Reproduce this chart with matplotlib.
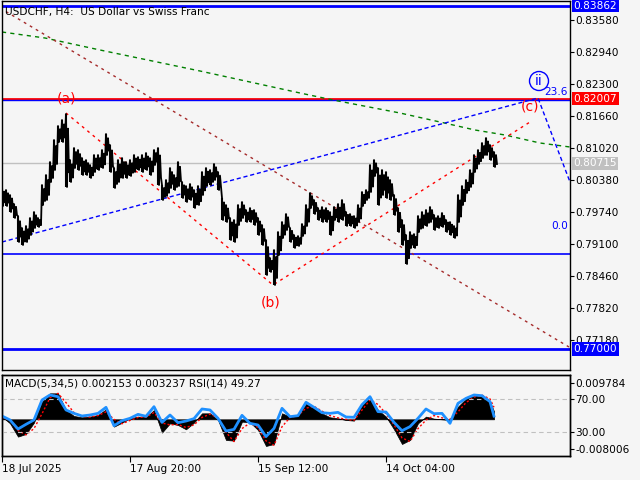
import matplotlib.pyplot as plt
from matplotlib import transforms

plt.rcParams['font.family'] = 'DejaVu Sans'

# price samples (one every 4 H4 bars), high / low
highs = [0.8022, 0.8018, 0.8008, 0.7990, 0.7966, 0.7942, 0.7946, 0.7962, 0.7974, 0.7962,
         0.8028, 0.8048, 0.8074, 0.8118, 0.8146, 0.8158, 0.8170, 0.8078, 0.8102, 0.8098,
         0.8082, 0.8078, 0.8068, 0.8088, 0.8088, 0.8098, 0.8130, 0.8108, 0.8062, 0.8078,
         0.8082, 0.8074, 0.8078, 0.8088, 0.8084, 0.8088, 0.8092, 0.8082, 0.8098, 0.8102,
         0.8028, 0.8038, 0.8062, 0.8048, 0.8074, 0.8034, 0.8026, 0.8030, 0.8018, 0.8026,
         0.8054, 0.8062, 0.8058, 0.8070, 0.8054, 0.8002, 0.7988, 0.7962, 0.7958, 0.7988,
         0.7994, 0.7978, 0.7982, 0.7978, 0.7962, 0.7948, 0.7918, 0.7882, 0.7898, 0.7934,
         0.7954, 0.7970, 0.7942, 0.7928, 0.7926, 0.7950, 0.7988, 0.8012, 0.7998, 0.7982,
         0.7984, 0.7982, 0.7974, 0.7984, 0.7990, 0.7998, 0.7974, 0.7970, 0.7966, 0.7988,
         0.8014, 0.8018, 0.8068, 0.8078, 0.8062, 0.8058, 0.8054, 0.8038, 0.8008, 0.7982,
         0.7958, 0.7928, 0.7934, 0.7930, 0.7966, 0.7974, 0.7978, 0.7984, 0.7968, 0.7966,
         0.7972, 0.7958, 0.7954, 0.7946, 0.8008, 0.8026, 0.8038, 0.8058, 0.8088, 0.8098,
         0.8112, 0.8122, 0.8108, 0.8094]
lows = [0.7986, 0.7986, 0.7974, 0.7962, 0.7914, 0.7908, 0.7914, 0.7928, 0.7942, 0.7944,
        0.7988, 0.7998, 0.8034, 0.8058, 0.8114, 0.8114, 0.8024, 0.8034, 0.8062, 0.8058,
        0.8048, 0.8048, 0.8042, 0.8054, 0.8058, 0.8062, 0.8088, 0.8054, 0.8022, 0.8034,
        0.8042, 0.8042, 0.8046, 0.8054, 0.8058, 0.8054, 0.8058, 0.8048, 0.8068, 0.8028,
        0.7998, 0.8006, 0.8022, 0.8018, 0.8026, 0.8002, 0.7994, 0.7998, 0.7982, 0.7988,
        0.8008, 0.8026, 0.8028, 0.8038, 0.8018, 0.7958, 0.7954, 0.7918, 0.7914, 0.7948,
        0.7962, 0.7954, 0.7954, 0.7948, 0.7928, 0.7908, 0.7848, 0.7854, 0.7828, 0.7888,
        0.7922, 0.7938, 0.7914, 0.7902, 0.7906, 0.7926, 0.7946, 0.7982, 0.7970, 0.7958,
        0.7954, 0.7954, 0.7928, 0.7958, 0.7954, 0.7958, 0.7946, 0.7946, 0.7942, 0.7954,
        0.7986, 0.7998, 0.8014, 0.8046, 0.7988, 0.8008, 0.8002, 0.7998, 0.7968, 0.7934,
        0.7908, 0.7870, 0.7902, 0.7902, 0.7934, 0.7942, 0.7946, 0.7954, 0.7938, 0.7942,
        0.7944, 0.7934, 0.7928, 0.7922, 0.7954, 0.7988, 0.8012, 0.8024, 0.8054, 0.8070,
        0.8082, 0.8088, 0.8078, 0.8064]
bars = list(range(0, 4 * len(highs), 4))

# indicator samples (one every 8 bars)
ind_bars = list(range(0, 489, 8)) + [492]
rsi = [49.4, 44.6, 33.6, 39.3, 44.6, 68.8, 74.9, 72.8, 56.7, 52.6,
       49.4, 50.6, 52.6, 59.9, 37.6, 43.7, 46.6, 51.4, 49.0, 60.7,
       41.7, 50.6, 41.3, 43.3, 46.2, 57.9, 56.7, 46.6, 31.2, 33.2,
       50.2, 40.5, 38.5, 24.4, 34.4, 58.7, 48.6, 49.8, 66.0, 59.9,
       53.4, 52.6, 53.8, 48.2, 47.8, 63.1, 72.8, 54.7, 54.2, 41.7,
       31.6, 36.5, 46.6, 57.9, 52.2, 52.6, 40.5, 64.7, 70.8, 74.9,
       74.0, 66.8, 49.27]
macd = [0.00072, -0.00108, -0.00467, -0.00395, -0.00090, 0.00476, 0.00700, 0.00700, 0.00251, 0.00089,
        0.00054, 0.00072, 0.00116, 0.00269, -0.00198, -0.00090, 0.00027, 0.00072, 0.00054, 0.00251,
        -0.00359, -0.00108, -0.00153, -0.00270, -0.00090, 0.00161, 0.00161, -0.00018, -0.00557, -0.00575,
        -0.00063, -0.00081, -0.00288, -0.00719, -0.00665, 0.00161, 0.00072, 0.00116, 0.00413, 0.00323,
        0.00161, 0.00054, 0.00027, -0.00018, -0.00036, 0.00386, 0.00610, 0.00251, 0.00072, -0.00270,
        -0.00665, -0.00557, -0.00108, 0.00072, 0.00018, 0.00000, -0.00018, 0.00341, 0.00556, 0.00628,
        0.00646, 0.00476, 0.002153]
signal = [0.0005, -0.0003, -0.0030, -0.0042, -0.0025, 0.0015, 0.0058, 0.0070, 0.0045, 0.0018,
          0.0008, 0.0006, 0.0010, 0.0020, 0.0000, -0.0012, -0.0003, 0.0005, 0.0006, 0.0018,
          -0.0010, -0.0015, -0.0014, -0.0022, -0.0015, 0.0005, 0.0014, 0.0004, -0.0035, -0.0060,
          -0.0025, -0.0010, -0.0022, -0.0058, -0.0070, -0.0020, 0.0005, 0.0010, 0.0030, 0.0035,
          0.0022, 0.0010, 0.0004, 0.0000, -0.0003, 0.0025, 0.0052, 0.0040, 0.0015, -0.0015,
          -0.0050, -0.0060, -0.0025, -0.0002, 0.0010, 0.0004, 0.0000, 0.0020, 0.0045, 0.0060,
          0.0065, 0.0055, 0.003237]

# drawn objects
green_x = [0, 43, 98, 198, 298, 331, 398, 438, 473, 503, 538, 568]
green_y = [0.8334, 0.8322, 0.8298, 0.8256, 0.8212, 0.8198, 0.8172, 0.8154, 0.8138, 0.8128, 0.8112, 0.8104]
blue_trend_x = [0, 536, 568]
blue_trend_y = [0.7914, 0.8202, 0.8034]
wave_x = [64, 271, 528]
wave_y = [0.8172, 0.7828, 0.8154]
channel_x = [-2, 567]
channel_y = [0.8382, 0.7704]

price_ticks = [0.83580, 0.82940, 0.82300, 0.81660, 0.81020, 0.80380, 0.79740, 0.79100, 0.78460, 0.77820, 0.77180]
date_bars = [0, 128, 256, 384]
date_labels = ['18 Jul 2025', '17 Aug 20:00', '15 Sep 12:00', '14 Oct 04:00']

bg = '#f5f5f5'
fs = 7.6
fig = plt.figure(figsize=(6.4, 4.8), dpi=100, facecolor=bg)
ax = fig.add_axes([2/640, 1-370/480, 568/640, 369/480], facecolor=bg)
ax2 = fig.add_axes([2/640, 1-456/480, 568/640, 81/480], facecolor=bg)

ax.set_xlim(0, 568)
ax.set_ylim(0.7658, 0.8396)

# horizontal levels
ax.axhline(0.83862, color='#0000ff', lw=2)
ax.axhline(0.82007, color='#ff0000', lw=2)
ax.axhline(0.8198, color='#0000ff', lw=1)
ax.axhline(0.80715, color='#c0c0c0', lw=1)
ax.axhline(0.7890, color='#0000ff', lw=1.2)
ax.axhline(0.77000, color='#0000ff', lw=2)

ax.plot(green_x, green_y, color='#008000', lw=1, ls=(0, (3, 3)))
ax.plot(channel_x, channel_y, color='#a52a2a', lw=1, ls=(0, (2, 3)))
ax.plot(blue_trend_x, blue_trend_y, color='#0000ff', lw=1, ls=(0, (3, 2)))
ax.plot(wave_x, wave_y, color='#ff0000', lw=1, ls=(0, (2, 3)))

# bars: jagged high/low sweep
zx, zy = [], []
for b, h, l in zip(bars, highs, lows):
    zx += [b, b + 1, b + 2, b + 3]
    zy += [h, l, (h + l) / 2 + (h - l) * 0.3, l + (h - l) * 0.2]
ax.plot(zx, zy, color='black', lw=1.3)
ax.vlines(bars, lows, highs, color='black', lw=1.5)

ax.text(64, 0.8202, '(a)', color='#ff0000', fontsize=10, ha='center', va='center')
ax.text(269, 0.7794, '(b)', color='#ff0000', fontsize=10, ha='center', va='center')
ax.text(528, 0.8186, '(c)', color='#ff0000', fontsize=10, ha='center', va='center')
ax.text(537, 0.8236, 'ii', color='#0000ff', fontsize=10, ha='center', va='center',
        bbox=dict(boxstyle='circle,pad=0.18', fc='none', ec='#0000ff', lw=1))
ax.text(566, 0.8214, '23.6', color='#0000ff', fontsize=fs, ha='right', va='center')
ax.text(566, 0.7946, '0.0', color='#0000ff', fontsize=fs, ha='right', va='center')

ax.text(3, 0.8384, 'USDCHF, H4:  US Dollar vs Swiss Franc', fontsize=fs, va='top', ha='left')

ax.yaxis.tick_right()
ax.set_yticks(price_ticks)
ax.set_yticklabels(['%.5f' % p for p in price_ticks])
ax.tick_params(axis='y', length=3, pad=1, labelsize=fs, width=0.8)
ax.set_xticks([])

tr = transforms.blended_transform_factory(ax.transAxes, ax.transData)
for val, col in [(0.83862, '#0000ff'), (0.82007, '#ff0000'), (0.80715, '#c0c0c0'), (0.77000, '#0000ff')]:
    ax.text(1.006, val, '%.5f' % val, transform=tr, color='white', fontsize=fs, ha='left', va='center',
            bbox=dict(boxstyle='square,pad=0.15', fc=col, ec='none'), clip_on=False, zorder=5)

# indicator panel
ax2.set_xlim(0, 568)
ax2.set_ylim(0.9, 99.1)
ax2.axhline(70, color='#c0c0c0', lw=0.8, ls=(0, (4, 3)))
ax2.axhline(30, color='#c0c0c0', lw=0.8, ls=(0, (4, 3)))
axm = ax2.twinx()
axm.set_ylim(-0.00989, 0.01194)
axm.fill_between(ind_bars, 0, macd, color='black', lw=0.5)
axm.plot(ind_bars, signal, color='#ff0000', lw=1, ls=(0, (1.5, 1.5)))
ax2.set_zorder(axm.get_zorder() + 1)
ax2.patch.set_visible(False)
ax2.plot(ind_bars, rsi, color='#1e90ff', lw=2)

ax2.yaxis.tick_right()
ax2.set_yticks([70, 30])
ax2.set_yticklabels(['70.00', '30.00'])
axm.set_yticks([0.009784, -0.008006])
axm.set_yticklabels(['0.009784', '-0.008006'])
for a in (ax2, axm):
    a.tick_params(axis='y', length=3, pad=1, labelsize=fs, width=0.8)
ax2.set_xticks(date_bars)
ax2.set_xticklabels(date_labels, ha='left')
ax2.tick_params(axis='x', length=4, pad=2, labelsize=fs, width=0.8)

ax2.text(3, 95, 'MACD(5,34,5) 0.002153 0.003237 RSI(14) 49.27', fontsize=fs, va='top', ha='left')

for a in (ax, ax2, axm):
    for s in a.spines.values():
        s.set_linewidth(1)
        s.set_color('black')

fig.savefig('out.png', dpi=100, facecolor=bg)
